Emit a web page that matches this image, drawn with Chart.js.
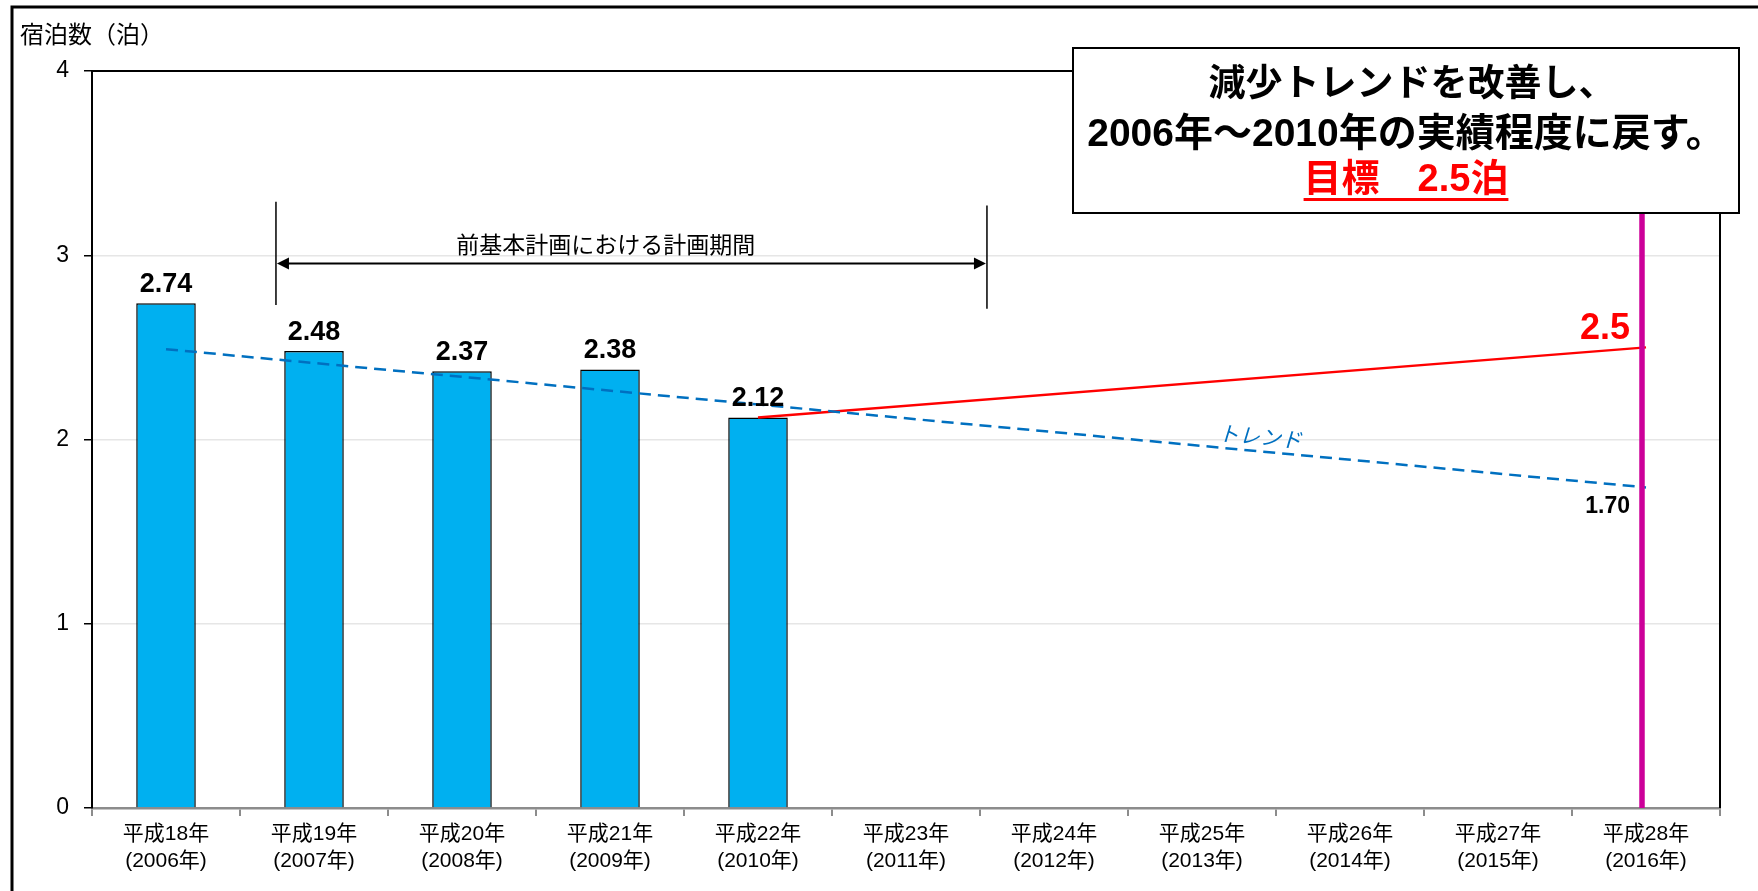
<!DOCTYPE html>
<html>
<head>
<meta charset="utf-8">
<script src="https://cdn.jsdelivr.net/npm/chart.js@4.4.1/dist/chart.umd.min.js"></script>
<style>
html,body{margin:0;padding:0;background:#fff;}
#wrap{width:1758px;height:891px;position:relative;}
</style>
</head>
<body>
<div id="wrap"><canvas id="c" width="1758" height="891"></canvas></div>
<script>
// ---- data ----
const categories = [
  ['平成18年','(2006年)'],['平成19年','(2007年)'],['平成20年','(2008年)'],
  ['平成21年','(2009年)'],['平成22年','(2010年)'],['平成23年','(2011年)'],
  ['平成24年','(2012年)'],['平成25年','(2013年)'],['平成26年','(2014年)'],
  ['平成27年','(2015年)'],['平成28年','(2016年)']
];
const stayNights = [2.74, 2.48, 2.37, 2.38, 2.12, null, null, null, null, null, null];
const trendLine  = [2.49, null, null, null, null, null, null, null, null, null, 1.74];
const targetLine = [null, null, null, null, 2.12, null, null, null, null, null, 2.5];
const trendEndLabel = '1.70';
const targetLabel = '2.5';
const yTicks = [0, 1, 2, 3, 4];
const yTitle = '宿泊数（泊）';
const periodText = '前基本計画における計画期間';
const trendText = 'トレンド';
const boxLines = ['減少トレンドを改善し、', '2006年～2010年の実績程度に戻す。', '目標　2.5泊'];

const F = "'Liberation Sans Narrow','Liberation Sans','Noto Sans CJK JP',sans-serif";
const FJ = "'Noto Sans CJK JP','Liberation Sans',sans-serif";

const annot = {
  id: 'annot',
  afterDatasetsDraw(chart) {
    const ctx = chart.ctx;
    const xs = chart.scales.x, ys = chart.scales.y;
    const ca = chart.chartArea;
    ctx.save();
    // plot top & right border
    ctx.strokeStyle = '#000'; ctx.lineWidth = 2;
    ctx.beginPath();
    ctx.moveTo(ca.left, ca.top); ctx.lineTo(ca.right, ca.top); ctx.lineTo(ca.right, ca.bottom);
    ctx.stroke();

    // bar value labels
    const bm = chart.getDatasetMeta(0);
    ctx.fillStyle = '#000';
    ctx.font = 'bold 27px ' + F;
    ctx.textAlign = 'center'; ctx.textBaseline = 'alphabetic';
    bm.data.forEach((el, i) => {
      if (stayNights[i] == null) return;
      ctx.fillText(stayNights[i].toFixed(2), el.x, el.y - 11);
    });

    // magenta target line at last category
    const xEnd = xs.getPixelForValue(categories.length - 1) - 4;
    ctx.strokeStyle = '#CC0099'; ctx.lineWidth = 5.5;
    ctx.beginPath();
    ctx.moveTo(xEnd, ys.getPixelForValue(0));
    ctx.lineTo(xEnd, ys.getPixelForValue(4));
    ctx.stroke();

    // target label 2.5
    ctx.fillStyle = '#FF0000';
    ctx.font = 'bold 36px ' + F;
    ctx.textAlign = 'right'; ctx.textBaseline = 'alphabetic';
    ctx.fillText(targetLabel, xEnd - 12, ys.getPixelForValue(2.5) - 8);

    // trend end label
    ctx.fillStyle = '#000';
    ctx.font = 'bold 23px ' + F;
    ctx.textAlign = 'right'; ctx.textBaseline = 'top';
    ctx.fillText(trendEndLabel, xEnd - 12, ys.getPixelForValue(1.74) + 8);

    // trend text (rotated along trend line)
    const tx0 = xs.getPixelForValue(0), ty0 = ys.getPixelForValue(trendLine[0]);
    const tx1 = xs.getPixelForValue(categories.length - 1), ty1 = ys.getPixelForValue(trendLine[trendLine.length - 1]);
    const ang = Math.atan2(ty1 - ty0, tx1 - tx0);
    const tcx = xs.left + (xs.right - xs.left) * 0.716;
    const tcy = ty0 + (ty1 - ty0) * (tcx - tx0) / (tx1 - tx0);
    ctx.save();
    ctx.translate(tcx, tcy);
    ctx.rotate(ang);
    ctx.transform(1, 0, -0.2, 1, 0, 0);
    ctx.fillStyle = '#0070C0';
    ctx.font = '21px ' + FJ;
    ctx.textAlign = 'center'; ctx.textBaseline = 'alphabetic';
    ctx.fillText(trendText, 0, -7);
    ctx.restore();

    // period annotation
    const w = xs.right - xs.left;
    const pl = xs.left + w * (1.243 / 11);
    const pr = xs.left + w * (6.047 / 11);
    ctx.strokeStyle = '#000'; ctx.lineWidth = 1.5;
    ctx.beginPath();
    ctx.moveTo(pl, ys.getPixelForValue(3.29)); ctx.lineTo(pl, ys.getPixelForValue(2.73));
    ctx.moveTo(pr, ys.getPixelForValue(3.27)); ctx.lineTo(pr, ys.getPixelForValue(2.71));
    ctx.stroke();
    const ay = ys.getPixelForValue(2.955);
    ctx.lineWidth = 2;
    ctx.beginPath();
    ctx.moveTo(pl + 10, ay); ctx.lineTo(pr - 10, ay);
    ctx.stroke();
    ctx.fillStyle = '#000';
    ctx.beginPath();
    ctx.moveTo(pl + 1, ay); ctx.lineTo(pl + 13, ay - 6); ctx.lineTo(pl + 13, ay + 6); ctx.closePath();
    ctx.moveTo(pr - 1, ay); ctx.lineTo(pr - 13, ay - 6); ctx.lineTo(pr - 13, ay + 6); ctx.closePath();
    ctx.fill();
    ctx.font = '23px ' + FJ;
    ctx.textAlign = 'center'; ctx.textBaseline = 'middle';
    ctx.fillText(periodText, xs.left + w * 0.3155, ys.getPixelForValue(3.06));

    // text box
    const bx = 1073, by = 48, bw = 666, bh = 165;
    ctx.fillStyle = '#fff';
    ctx.fillRect(bx, by, bw, bh);
    ctx.strokeStyle = '#000'; ctx.lineWidth = 2;
    ctx.strokeRect(bx, by, bw, bh);
    const cx = bx + bw / 2;
    ctx.textAlign = 'center'; ctx.textBaseline = 'middle';
    ctx.font = 'bold 37px ' + F;
    ctx.fillStyle = '#000';
    ctx.fillText(boxLines[0], cx + 6, 86);
    ctx.font = 'bold 39px ' + F;
    ctx.fillText(boxLines[1], cx, 135);
    ctx.font = 'bold 38px ' + F;
    ctx.fillStyle = '#FF0000';
    ctx.fillText(boxLines[2], cx, 181);
    const lw = ctx.measureText(boxLines[2]).width;
    ctx.fillRect(cx - lw / 2, 198, lw, 3);

    // y-axis title
    ctx.fillStyle = '#000';
    ctx.font = '24px ' + FJ;
    ctx.textAlign = 'left'; ctx.textBaseline = 'middle';
    ctx.fillText(yTitle, 20, 34);

    // outer frame (left & top)
    ctx.strokeStyle = '#000'; ctx.lineWidth = 3;
    ctx.beginPath();
    ctx.moveTo(12, 891); ctx.lineTo(12, 7); ctx.lineTo(1758, 7);
    ctx.stroke();
    ctx.restore();
  }
};

new Chart(document.getElementById('c'), {
  type: 'bar',
  data: {
    labels: categories,
    datasets: [
      { type: 'bar', data: stayNights, backgroundColor: '#00B0F0', borderColor: '#000', borderWidth: 1.5,
        categoryPercentage: 0.8, barPercentage: 0.503, order: 3 },
      { type: 'line', data: trendLine, borderColor: '#0070C0', borderWidth: 2.5, borderDash: [12, 7],
        pointRadius: 0, spanGaps: true, order: 1 },
      { type: 'line', data: targetLine, borderColor: '#FF0000', borderWidth: 2.5,
        pointRadius: 0, spanGaps: true, order: 2 }
    ]
  },
  options: {
    responsive: false,
    animation: false,
    events: [],
    layout: { padding: { left: 0, right: 38, top: 71, bottom: 0 } },
    plugins: { legend: { display: false }, tooltip: { enabled: false } },
    scales: {
      x: {
        afterFit(s) { s.height = 83; },
        grid: { display: true, drawOnChartArea: false, drawTicks: true, tickLength: 8, color: '#8c8c8c', lineWidth: 2, offset: true },
        border: { display: true, color: '#8c8c8c', width: 2.5 },
        ticks: { color: '#000', font: { family: F, size: 21, lineHeight: 1.28 }, padding: 5, maxRotation: 0, autoSkip: false }
      },
      y: {
        min: 0, max: 4,
        afterFit(s) { s.width = 92; },
        afterBuildTicks(s) { s.ticks = yTicks.map(v => ({ value: v })); },
        grid: { color: '#e6e6e6', lineWidth: 1.5, tickColor: '#000', tickLength: 8, drawTicks: true },
        border: { display: true, color: '#000', width: 2 },
        ticks: { color: '#000', font: { family: F, size: 23 }, padding: 15 }
      }
    }
  },
  plugins: [annot]
});
</script>
</body>
</html>
